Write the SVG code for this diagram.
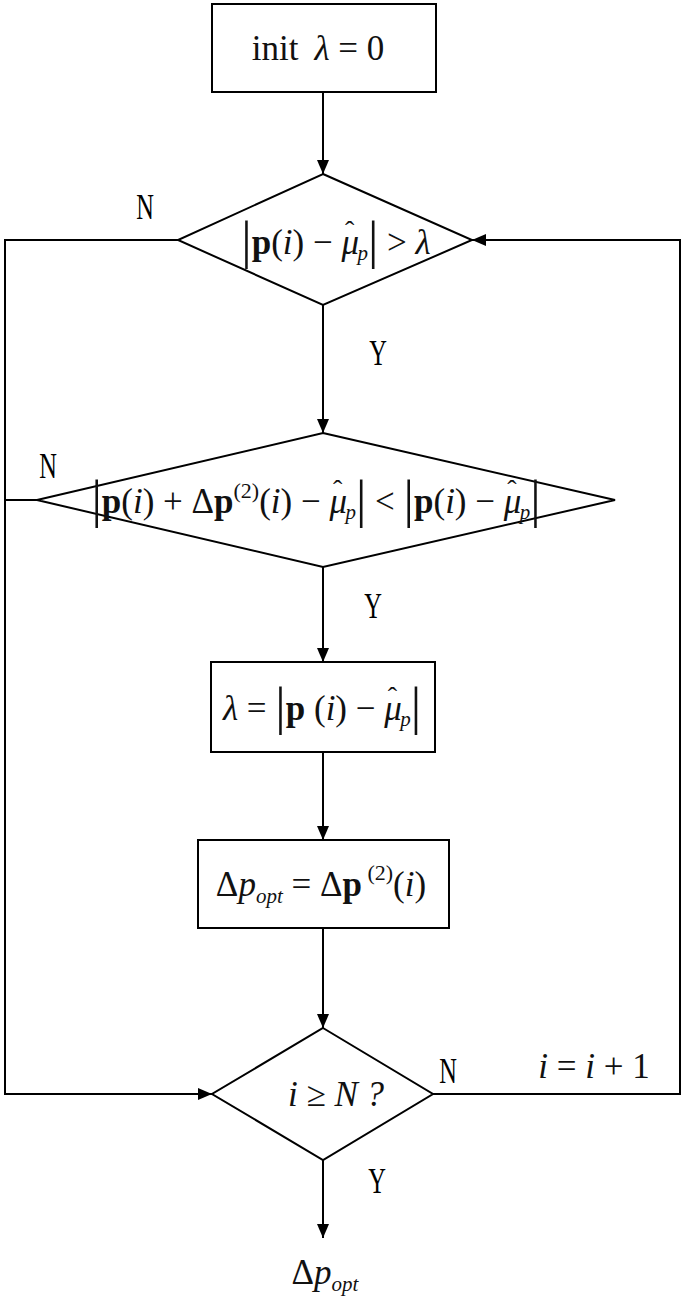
<svg xmlns="http://www.w3.org/2000/svg" width="685" height="1304" viewBox="0 0 685 1304">
<defs>
<style>
.s{fill:none;stroke:#000;stroke-width:2}
.n{fill:#fff;stroke:#000;stroke-width:2}
.m{font-family:"Liberation Serif","Times New Roman",serif;font-size:35px;fill:#111;text-anchor:middle}
.i{font-style:italic}
.b{font-weight:bold}
.sub{font-size:21px;font-style:italic}
.bar{font-size:52px}
.hat{font-size:28px}
.lb{font-family:"Liberation Serif","Times New Roman",serif;font-size:36px;fill:#000;text-anchor:middle}
</style>
<marker id="ah" markerUnits="userSpaceOnUse" markerWidth="14" markerHeight="14" viewBox="0 0 14 14" refX="14" refY="7" orient="auto">
<path d="M0,1 L14,7 L0,13 Z" fill="#000"/>
</marker>
</defs>
<rect width="685" height="1304" fill="#fff"/>
<g id="connectors">
<line class="s" x1="323" y1="92" x2="323" y2="174" marker-end="url(#ah)"/>
<line class="s" x1="323" y1="305" x2="323" y2="433" marker-end="url(#ah)"/>
<line class="s" x1="323" y1="567" x2="323" y2="662" marker-end="url(#ah)"/>
<line class="s" x1="323" y1="752" x2="323" y2="840" marker-end="url(#ah)"/>
<line class="s" x1="323" y1="928" x2="323" y2="1028" marker-end="url(#ah)"/>
<line class="s" x1="323" y1="1160" x2="323" y2="1238" marker-end="url(#ah)"/>
<polyline class="s" points="178,240 5,240 5,1094 212,1094" marker-end="url(#ah)"/>
<line class="s" x1="37" y1="500" x2="5" y2="500"/>
<polyline class="s" points="433,1094 680,1094 680,240 472,240" marker-end="url(#ah)"/>
</g>
<g id="init">
<rect class="n" x="212" y="4" width="224" height="88"/>
<text class="m" x="318" y="60">init<tspan class="i" dx="16">λ</tspan> = 0</text>
</g>
<g id="cond1">
<polygon class="n" points="323,174 472,240 323,305 178,240"/>
<text class="m" x="336" y="254"><tspan class="bar" dy="4">|</tspan><tspan class="b" dy="-4">p</tspan>(<tspan class="i">i</tspan>) − <tspan class="i">μ</tspan><tspan class="hat" dx="-14" dy="-14">ˆ</tspan><tspan class="sub" dx="3" dy="20">p</tspan><tspan class="bar" dy="-2">|</tspan><tspan dy="-4"> &gt; </tspan><tspan class="i">λ</tspan></text>
</g>
<g id="cond2">
<polygon class="n" points="323,433 615,500 323,567 37,500"/>
<text class="m" x="316" y="513" font-size="37"><tspan class="bar" dy="4">|</tspan><tspan class="b" dy="-4">p</tspan>(<tspan class="i">i</tspan>) + Δ<tspan class="b">p</tspan><tspan font-size="22" dy="-15">(2)</tspan><tspan dy="15">(</tspan><tspan class="i">i</tspan>) − <tspan class="i">μ</tspan><tspan class="hat" dx="-14" dy="-14">ˆ</tspan><tspan class="sub" dx="3" dy="20">p</tspan><tspan class="bar" dy="-2">|</tspan><tspan dy="-4"> &lt; </tspan><tspan class="bar" dy="4">|</tspan><tspan class="b" dy="-4">p</tspan>(<tspan class="i">i</tspan>) − <tspan class="i">μ</tspan><tspan class="hat" dx="-14" dy="-14">ˆ</tspan><tspan class="sub" dx="3" dy="20">p</tspan><tspan class="bar" dy="-2">|</tspan></text>
</g>
<g id="update-lambda">
<rect class="n" x="211" y="662" width="224" height="90"/>
<text class="m" x="322" y="720"><tspan class="i">λ</tspan> = <tspan class="bar" dy="4">|</tspan><tspan class="b" dy="-4">p</tspan> (<tspan class="i">i</tspan>) − <tspan class="i">μ</tspan><tspan class="hat" dx="-14" dy="-14">ˆ</tspan><tspan class="sub" dx="3" dy="20">p</tspan><tspan class="bar" dy="-2">|</tspan></text>
</g>
<g id="update-dp">
<rect class="n" x="198" y="840" width="251" height="88"/>
<text class="m" x="321" y="896">Δ<tspan class="i">p</tspan><tspan class="sub" dy="7">opt</tspan><tspan dy="-7"> = Δ</tspan><tspan class="b">p</tspan><tspan font-size="22" dy="-16"> (2)</tspan><tspan dy="16">(</tspan><tspan class="i">i</tspan>)</text>
</g>
<g id="cond3">
<polygon class="n" points="323,1028 433,1094 323,1160 212,1094"/>
<text class="m i" x="336" y="1106" fill="#333" font-size="32">i ≥ N ?</text>
</g>
<g id="output">
<text class="m" x="325" y="1284">Δ<tspan class="i">p</tspan><tspan class="sub" dy="7">opt</tspan></text>
</g>
<g id="labels">
<text class="lb" transform="translate(145,219) scale(0.68,1)">N</text>
<text class="lb" transform="translate(378,365) scale(0.68,1)">Y</text>
<text class="lb" transform="translate(48,478) scale(0.68,1)">N</text>
<text class="lb" transform="translate(373,618) scale(0.68,1)">Y</text>
<text class="lb" transform="translate(448,1083) scale(0.68,1)">N</text>
<text class="lb" transform="translate(377,1193) scale(0.68,1)">Y</text>
<text class="m" x="594" y="1078" font-size="32"><tspan class="i">i</tspan> = <tspan class="i">i</tspan> + 1</text>
</g>
</svg>
